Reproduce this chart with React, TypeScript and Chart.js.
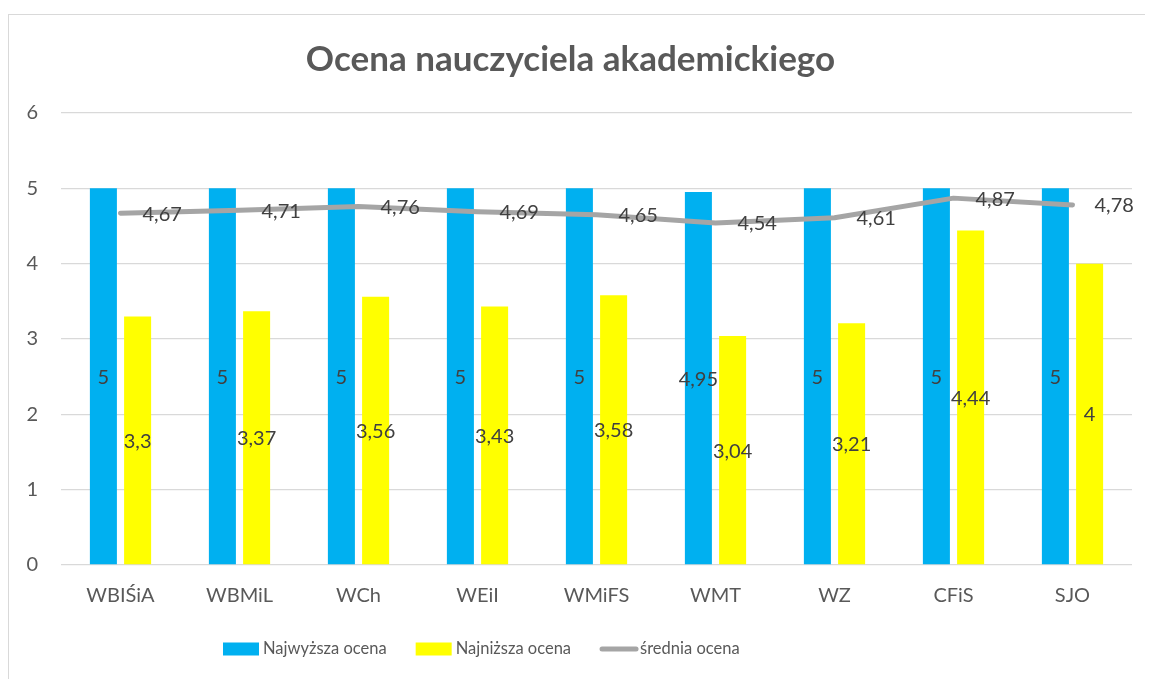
import React, { useEffect, useRef } from "react";
import { Chart, registerables } from "chart.js";

Chart.register(...registerables);

const categories = ["WBIŚiA", "WBMiL", "WCh", "WEiI", "WMiFS", "WMT", "WZ", "CFiS", "SJO"];
const highest = [5, 5, 5, 5, 5, 4.95, 5, 5, 5];
const lowest = [3.3, 3.37, 3.56, 3.43, 3.58, 3.04, 3.21, 4.44, 4];
const average = [4.67, 4.71, 4.76, 4.69, 4.65, 4.54, 4.61, 4.87, 4.78];
const yTicks = [0, 1, 2, 3, 4, 5, 6];

const BLUE = "#00B0F0";
const YELLOW = "#FFFF00";
const GRAY = "#A5A5A5";
const TEXT = "#595959";
const LABEL = "#404040";
const FONT = "Lato";

const fmt = (v: number) => String(v).replace(".", ",");

const labelsPlugin = {
  id: "valueLabels",
  afterDatasetsDraw(chart: any) {
    const ctx = chart.ctx;
    ctx.save();
    ctx.font = `20px ${FONT}`;
    ctx.fillStyle = LABEL;
    ctx.textBaseline = "middle";
    chart.data.datasets.forEach((ds: any, di: number) => {
      const meta = chart.getDatasetMeta(di);
      meta.data.forEach((el: any, i: number) => {
        const v = ds.data[i];
        if (ds.type === "line") {
          ctx.textAlign = "left";
          ctx.fillText(fmt(v), el.x + 22, el.y + 1);
        } else {
          ctx.textAlign = "center";
          ctx.fillText(fmt(v), el.x, (el.y + el.base) / 2 + 1);
        }
      });
    });
    ctx.restore();
  },
};

const legendOrder = ["Najwyższa ocena", "Najniższa ocena", "średnia ocena"];

const legendPlugin = {
  id: "customLegend",
  afterDraw(chart: any) {
    const ctx = chart.ctx;
    ctx.save();
    ctx.font = `16.5px ${FONT}`;
    ctx.textBaseline = "middle";
    ctx.textAlign = "left";
    const cy = chart.height - 34;
    let x = 214;
    legendOrder.forEach((name) => {
      const ds: any = chart.data.datasets.find((d: any) => d.label === name);
      if (!ds) return;
      if (ds.type === "line") {
        ctx.strokeStyle = ds.borderColor;
        ctx.lineWidth = 5;
        ctx.lineCap = "round";
        ctx.beginPath();
        ctx.moveTo(x + 2, cy);
        ctx.lineTo(x + 36, cy);
        ctx.stroke();
      } else {
        ctx.fillStyle = ds.backgroundColor;
        ctx.fillRect(x, cy - 6.5, 36, 13);
      }
      x += 40;
      ctx.fillStyle = TEXT;
      ctx.fillText(ds.label, x, cy);
      x += ctx.measureText(ds.label).width + 29;
    });
    ctx.restore();
  },
};

export default function App() {
  const ref = useRef<HTMLCanvasElement | null>(null);

  useEffect(() => {
    document.documentElement.style.overflow = "hidden";
    document.body.style.overflow = "hidden";
    let chart: Chart | null = null;
    let cancelled = false;
    const make = () => {
      if (cancelled || !ref.current) return;
      chart = new Chart(ref.current, {
        type: "bar",
        data: {
          labels: categories,
          datasets: [
            {
              type: "line",
              label: "średnia ocena",
              data: average,
              borderColor: GRAY,
              backgroundColor: GRAY,
              borderWidth: 5,
              borderCapStyle: "round",
              borderJoinStyle: "round",
              pointRadius: 0,
              tension: 0,
              order: 0,
            } as any,
            {
              type: "bar",
              label: "Najwyższa ocena",
              data: highest,
              backgroundColor: BLUE,
              categoryPercentage: 0.575,
              barPercentage: 0.79,
              order: 1,
            } as any,
            {
              type: "bar",
              label: "Najniższa ocena",
              data: lowest,
              backgroundColor: YELLOW,
              categoryPercentage: 0.575,
              barPercentage: 0.79,
              order: 2,
            } as any,
          ],
        },
        options: {
          responsive: false,
          animation: false,
          devicePixelRatio: 1,
          layout: { padding: { top: 0, left: 0, right: 17, bottom: 56 } },
          plugins: {
            legend: { display: false },
            tooltip: { enabled: false },
            title: {
              display: true,
              text: "Ocena nauczyciela akademickiego",
              color: TEXT,
              font: { family: FONT, size: 35, weight: "bold" },
              padding: { top: 24, bottom: 32 },
            },
          },
          scales: {
            x: {
              grid: { display: false, drawTicks: false },
              border: { display: false },
              ticks: { color: TEXT, font: { family: FONT, size: 20 }, padding: 19 },
            },
            y: {
              min: yTicks[0],
              max: yTicks[yTicks.length - 1],
              afterFit: (s: any) => {
                s.width = 52;
              },
              afterBuildTicks: (s: any) => {
                s.ticks = yTicks.map((v) => ({ value: v }));
              },
              grid: { color: "#D9D9D9", lineWidth: 1.3, drawTicks: false },
              border: { display: false },
              ticks: { color: TEXT, font: { family: FONT, size: 20 }, padding: 23 },
            },
          },
        },
        plugins: [labelsPlugin, legendPlugin],
      });
    };
    const fonts: any = (document as any).fonts;
    if (fonts && fonts.load) {
      Promise.all([
        fonts.load(`20px ${FONT}`),
        fonts.load(`16.5px ${FONT}`),
        fonts.load(`bold 35px ${FONT}`),
      ])
        .catch(() => null)
        .then(make);
    } else {
      make();
    }
    return () => {
      cancelled = true;
      if (chart) chart.destroy();
    };
  }, []);

  return (
    <div style={{ paddingTop: 6 }}>
      <div
        style={{
          width: 1142,
          height: 670,
          border: "1px solid #D9D9D9",
          boxSizing: "border-box",
          background: "#fff",
        }}
      >
        <canvas ref={ref} width={1140} height={668} style={{ display: "block" }} />
      </div>
    </div>
  );
}
